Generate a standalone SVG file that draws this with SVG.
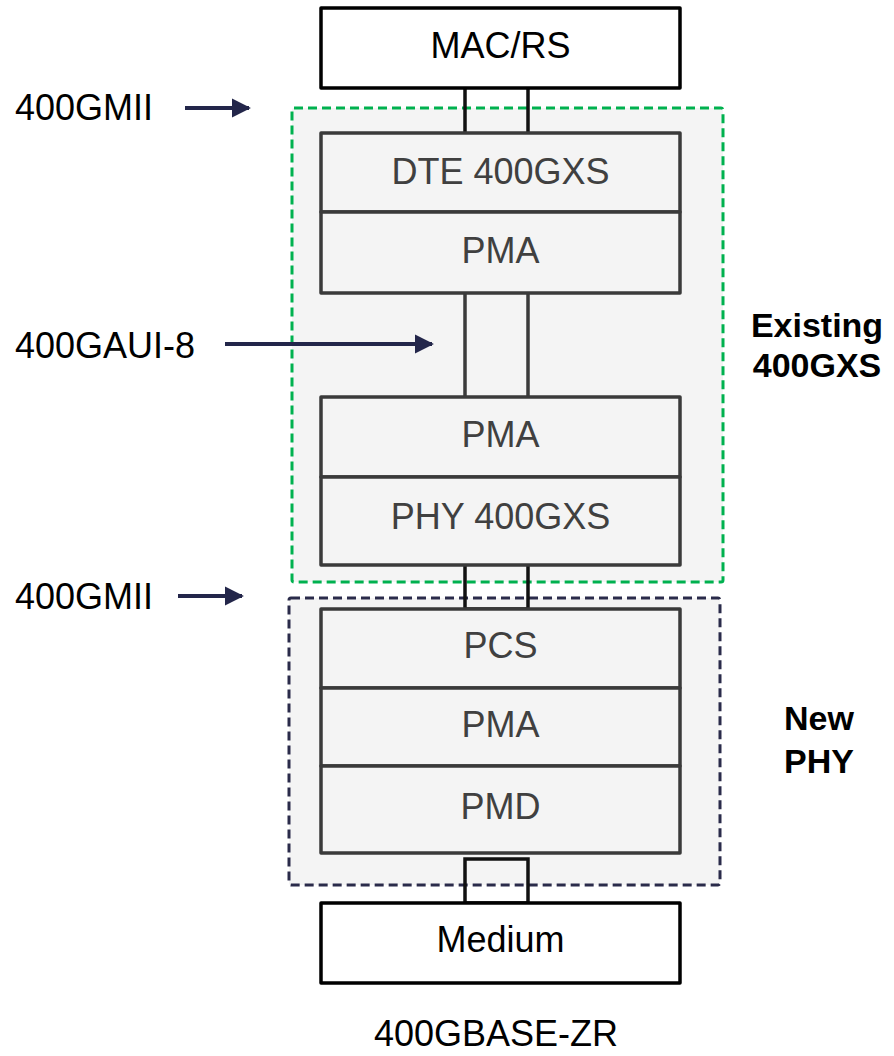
<svg xmlns="http://www.w3.org/2000/svg" width="894" height="1056" viewBox="0 0 894 1056">
<defs>
<style>
.lbl{font-family:"Liberation Sans",Arial,sans-serif;font-size:36px;fill:#000}
.in{font-family:"Liberation Sans",Arial,sans-serif;font-size:36px;fill:#404040;text-anchor:middle}
.out{font-family:"Liberation Sans",Arial,sans-serif;font-size:36px;fill:#000;text-anchor:middle}
.bold{font-family:"Liberation Sans",Arial,sans-serif;font-size:34px;font-weight:bold;fill:#000;text-anchor:middle}
.layer{fill:#f4f4f4;stroke:#3a3a3a;stroke-width:3.5;stroke-linejoin:round}
.ext{fill:#fff;stroke:#000;stroke-width:3.5;stroke-linejoin:round}
.conn{fill:none;stroke:#111;stroke-width:3.5}
.arrow{stroke:#23264a;stroke-width:4;fill:none}
</style>
<marker id="ah" viewBox="0 0 10 10" refX="9" refY="5" markerWidth="4.8" markerHeight="4.8" markerUnits="strokeWidth" orient="auto">
<path d="M0,0 L10,5 L0,10 Z" fill="#23264a"/>
</marker>
</defs>
<g id="grp-existing">
<rect x="292" y="108" width="431" height="474" rx="2" fill="#f4f4f4" stroke="#00b14f" stroke-width="3" stroke-dasharray="9,5"/>
</g>
<g id="grp-new">
<rect x="289" y="598" width="431" height="287" rx="2" fill="#f4f4f4" stroke="#2a2b4a" stroke-width="3" stroke-dasharray="9,5"/>
</g>
<g id="connectors">
<path class="conn" d="M465,88 V133 M528,88 V133"/>
<path class="conn" d="M465,293 V397 M528,293 V397" style="stroke:#3a3a3a"/>
<path class="conn" d="M465,565 V609 H528 V565"/>
<rect class="conn" x="465" y="859" width="63" height="44"/>
<line class="arrow" x1="185" y1="108" x2="249" y2="108" marker-end="url(#ah)"/>
<line class="arrow" x1="225" y1="344" x2="432" y2="344" marker-end="url(#ah)"/>
<line class="arrow" x1="178" y1="596" x2="242" y2="596" marker-end="url(#ah)"/>
</g>
<g id="mac"><rect class="ext" x="321" y="8" width="359" height="80"/><text class="out" x="500.5" y="58">MAC/RS</text></g>
<g id="dte"><rect class="layer" x="321" y="133" width="359" height="79"/><text class="in" x="500.5" y="184">DTE 400GXS</text></g>
<g id="pma1"><rect class="layer" x="321" y="212" width="359" height="81"/><text class="in" x="500.5" y="263">PMA</text></g>
<g id="pma2"><rect class="layer" x="321" y="397" width="359" height="80"/><text class="in" x="500.5" y="447">PMA</text></g>
<g id="phy"><rect class="layer" x="321" y="477" width="359" height="88"/><text class="in" x="500.5" y="529">PHY 400GXS</text></g>
<g id="pcs"><rect class="layer" x="321" y="609" width="359" height="79"/><text class="in" x="500.5" y="658">PCS</text></g>
<g id="pma3"><rect class="layer" x="321" y="688" width="359" height="78"/><text class="in" x="500.5" y="737">PMA</text></g>
<g id="pmd"><rect class="layer" x="321" y="766" width="359" height="87"/><text class="in" x="500.5" y="819">PMD</text></g>
<g id="medium"><rect class="ext" x="321" y="903" width="359" height="80"/><text class="out" x="500.5" y="952">Medium</text></g>
<g id="labels">
<text class="lbl" x="15" y="120">400GMII</text>
<text class="lbl" x="15" y="358">400GAUI-8</text>
<text class="lbl" x="15" y="609">400GMII</text>
<text class="bold" x="817" y="337">Existing</text>
<text class="bold" x="817" y="377">400GXS</text>
<text class="bold" x="819" y="730">New</text>
<text class="bold" x="819" y="773">PHY</text>
<text class="out" x="496" y="1046">400GBASE-ZR</text>
</g>
</svg>
